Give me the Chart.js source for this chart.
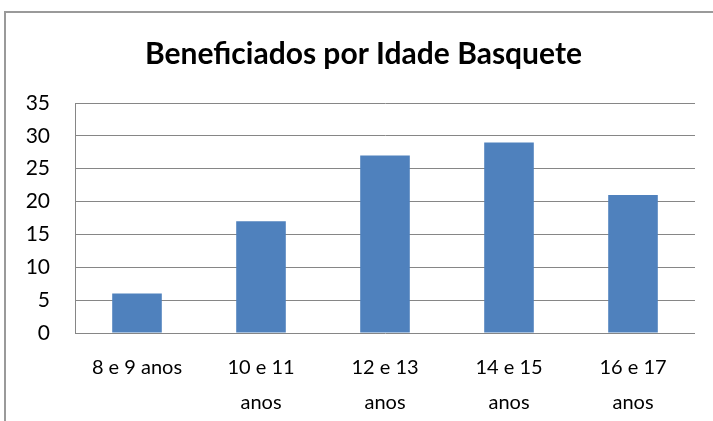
<!DOCTYPE html>
<html>
<head>
<meta charset="utf-8">
<script src="https://cdn.jsdelivr.net/npm/chart.js@4/dist/chart.umd.min.js"></script>
<style>
html,body{margin:0;padding:0;background:#fff;overflow:hidden;width:713px;height:421px;}
#frame{position:absolute;left:4px;top:11px;width:760px;height:460px;border:2px solid #9a9a9a;box-sizing:border-box;}
#wrap{position:absolute;left:0;top:0;width:713px;height:421px;}
</style>
</head>
<body>
<div id="frame"></div>
<div id="wrap"><canvas id="c" width="713" height="421"></canvas></div>
<script>
const categories = ['8 e 9 anos', ['10 e 11', 'anos'], ['12 e 13', 'anos'], ['14 e 15', 'anos'], ['16 e 17', 'anos']];
const values = [6, 17, 27, 29, 21];
const chartTitle = 'Beneficiados por Idade Basquete';
const yMin = 0, yMax = 35, yStep = 5;

const FONT = 'Lato, "Open Sans", sans-serif';

const titleShift = {
  id: 'titleShift',
  afterLayout(chart) {
    if (chart.titleBlock) { chart.titleBlock.left += 28; }
  }
};

new Chart(document.getElementById('c'), {
  type: 'bar',
  data: {
    labels: categories,
    datasets: [{
      data: values,
      backgroundColor: '#4F81BD',
      borderWidth: 0,
      barPercentage: 0.4,
      categoryPercentage: 1.0
    }]
  },
  plugins: [titleShift],
  options: {
    responsive: false,
    animation: false,
    devicePixelRatio: 1,
    layout: { padding: { left: 4, right: 18, top: 0, bottom: -16 } },
    plugins: {
      legend: { display: false },
      tooltip: { enabled: false },
      title: {
        display: true,
        text: chartTitle,
        color: '#000',
        font: { family: FONT, size: 30, weight: 'bold' },
        padding: { top: 36, bottom: 31 }
      }
    },
    scales: {
      x: {
        grid: { display: false, drawTicks: false },
        border: { display: false },
        ticks: {
          color: '#000',
          font: { family: FONT, size: 20, lineHeight: 1.75 },
          padding: 17,
          maxRotation: 0,
          autoSkip: false
        }
      },
      y: {
        min: yMin, max: yMax,
        grid: { color: '#868686', lineWidth: 1, drawTicks: false },
        border: { display: true, color: '#868686', width: 1 },
        afterFit(scale) { scale.width = 71; },
        ticks: {
          stepSize: yStep,
          color: '#000',
          font: { family: FONT, size: 21 },
          padding: 25
        }
      }
    }
  }
});
</script>
</body>
</html>
